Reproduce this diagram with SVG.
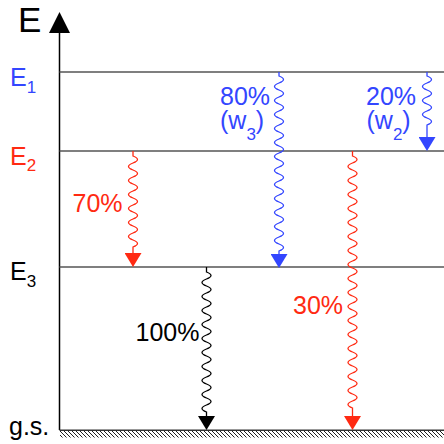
<svg xmlns="http://www.w3.org/2000/svg" width="444" height="444" viewBox="0 0 444 444">
<style>
text{font-family:"Liberation Sans",Arial,Helvetica,sans-serif;font-size:25px}
.sub{font-size:17px}
.blue{fill:#3346ff}
.red{fill:#ff2a12}
.black{fill:#000}
.level{stroke:#555;stroke-width:1.5;fill:none}
.wave{fill:none;stroke-width:1.3}
.wb{stroke:#3346ff}
.wr{stroke:#ff2a12}
.wk{stroke:#000}
</style>
<defs>
<marker id="ab" viewBox="0 0 14 17" refX="0" refY="8.5" markerWidth="14" markerHeight="17" markerUnits="userSpaceOnUse" orient="auto"><path d="M0,0L14,8.5L0,17z" fill="#3346ff"/></marker>
<marker id="ar" viewBox="0 0 14 17" refX="0" refY="8.5" markerWidth="14" markerHeight="17" markerUnits="userSpaceOnUse" orient="auto"><path d="M0,0L14,8.5L0,17z" fill="#ff2a12"/></marker>
<marker id="ak" viewBox="0 0 14 17" refX="0" refY="8.5" markerWidth="14" markerHeight="17" markerUnits="userSpaceOnUse" orient="auto"><path d="M0,0L14,8.5L0,17z" fill="#000"/></marker>
<pattern id="hatch" patternUnits="userSpaceOnUse" width="4" height="4" x="0" y="431">
<path d="M-1,-1L5,5M-1,3L1,5M3,-1L5,1" stroke="#222" stroke-width="1"/>
</pattern>
</defs>

<g id="axis">
<line x1="59.5" y1="430" x2="59.5" y2="33" stroke="#000" stroke-width="1.5"/>
<path d="M49,33L70,33L59.5,12z" fill="#000"/>
<text x="18" y="32" style="font-size:35px" class="black">E</text>
</g>

<g id="E1">
<line class="level" x1="59.5" y1="72" x2="444" y2="72"/>
<text x="10" y="86" class="blue">E<tspan class="sub" dy="7">1</tspan></text>
</g>
<g id="E2">
<line class="level" x1="59.5" y1="151" x2="444" y2="151"/>
<text x="10" y="165" class="red">E<tspan class="sub" dy="6">2</tspan></text>
</g>
<g id="E3">
<line class="level" x1="59.5" y1="267" x2="444" y2="267"/>
<text x="10" y="280" class="black">E<tspan class="sub" dy="7">3</tspan></text>
</g>
<g id="gs">
<rect x="60" y="431" width="384" height="6.5" fill="url(#hatch)"/>
<line x1="59.5" y1="430.2" x2="444" y2="430.2" stroke="#333" stroke-width="1.5"/>
<text x="9" y="435" class="black">g.s.</text>
</g>

<g id="connectors">
<path class="wave wr" marker-end="url(#ar)" d="M133,151v5q9,3.5 0,7t0,7t0,7t0,7t0,7t0,7t0,7t0,7t0,7t0,7t0,7t0,7t0,7V253"/>
<path class="wave wb" marker-end="url(#ab)" d="M279,72v4q9,3.5 0,7t0,7t0,7t0,7t0,7t0,7t0,7t0,7t0,7t0,7t0,7t0,7t0,7t0,7t0,7t0,7t0,7t0,7t0,7t0,7t0,7t0,7t0,7t0,7t0,7V254"/>
<path class="wave wb" marker-end="url(#ab)" d="M427,72v4q9,3.5 0,7t0,7t0,7t0,7t0,7t0,7t0,7V137"/>
<path class="wave wk" marker-end="url(#ak)" d="M206.5,267v5q9,3.5 0,7t0,7t0,7t0,7t0,7t0,7t0,7t0,7t0,7t0,7t0,7t0,7t0,7t0,7t0,7t0,7t0,7t0,7t0,7t0,7V416"/>
<path class="wave wr" marker-end="url(#ar)" d="M352.5,151v5q9,3.5 0,7t0,7t0,7t0,7t0,7t0,7t0,7t0,7t0,7t0,7t0,7t0,7t0,7t0,7t0,7t0,7t0,7t0,7t0,7t0,7t0,7t0,7t0,7t0,7t0,7t0,7t0,7t0,7t0,7t0,7t0,7t0,7t0,7t0,7t0,7t0,7V416"/>
</g>

<g id="labels">
<text x="220" y="105" class="blue">80%</text>
<text x="220" y="129" class="blue">(w<tspan class="sub" dy="11">3</tspan><tspan dy="-11">)</tspan></text>
<text x="366" y="105" class="blue">20%</text>
<text x="366.5" y="129" class="blue">(w<tspan class="sub" dy="11">2</tspan><tspan dy="-11">)</tspan></text>
<text x="72.5" y="212" class="red">70%</text>
<text x="293" y="313.5" class="red">30%</text>
<text x="135.5" y="341" class="black">100%</text>
</g>
</svg>
